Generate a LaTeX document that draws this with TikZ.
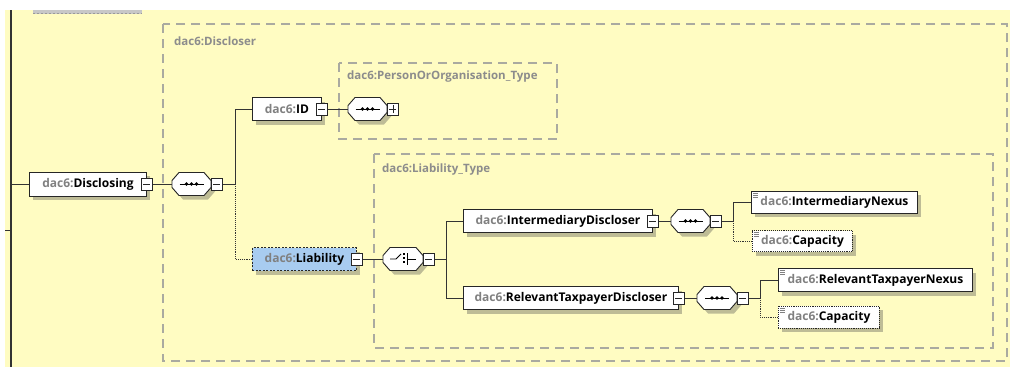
\documentclass[tikz,border=0pt]{standalone}
\usepackage{fontspec}
\setmainfont{Open Sans}
\definecolor{bgy}{RGB}{255,252,194}
\definecolor{dgray}{RGB}{128,128,128}
\definecolor{lblgray}{RGB}{140,140,140}
\definecolor{dashg}{RGB}{170,170,160}
\definecolor{liabblue}{RGB}{168,204,240}
\definecolor{shd}{RGB}{190,188,150}
\tikzset{
  elem/.style={draw=black!85, fill=white, rectangle, minimum height=23pt, inner sep=0pt,
    anchor=west, line width=0.9pt, font=\fontsize{12}{14}\selectfont\bfseries},
  shadownode/.style={draw=none, fill=shd, rectangle, minimum height=23pt, inner sep=0pt, outer sep=0pt, anchor=west},
  optelem/.style={elem, densely dotted},
  liabelem/.style={elem, fill=liabblue, dash pattern=on 2pt off 1.5pt},
  simplemark/.style={path picture={
      \foreach \k in {2,4,6}
        \draw[line width=0.6pt, dgray, solid] ([xshift=2pt,yshift=-\k pt]path picture bounding box.north west) -- ++(5pt,0);}},
  minusbox/.style={draw=black!85, fill=white, rectangle, minimum width=11pt, minimum height=12pt,
    inner sep=0pt, line width=0.8pt, solid,
    path picture={\draw[line width=0.8pt] ([xshift=2pt]path picture bounding box.west) -- ([xshift=-2pt]path picture bounding box.east);}},
  plusbox/.style={minusbox,
    path picture={\draw[line width=0.8pt] ([xshift=2pt]path picture bounding box.west) -- ([xshift=-2pt]path picture bounding box.east);
                  \draw[line width=0.8pt] ([yshift=2pt]path picture bounding box.south) -- ([yshift=-2pt]path picture bounding box.north);}},
  octo/.style={rectangle, draw=none, fill=none, minimum height=23pt, inner sep=0pt, outer sep=0pt, anchor=west},
  symline/.style={line width=0.9pt, black},
  dashbox/.style={draw=dashg, line width=1.3pt, dash pattern=on 9pt off 6pt},
  boxlabel/.style={anchor=west, inner sep=0pt, text=lblgray, font=\fontsize{11.5}{13}\selectfont\bfseries},
  conn/.style={draw=black!80, line width=0.9pt},
}
\newcommand\pfx{\textcolor{dgray}{dac6:}}
% octagon path round a node
\newcommand\octpath[1]{([xshift=7pt]#1.north west) -- ([xshift=-7pt]#1.north east) -- ([yshift=-8pt]#1.north east) -- ([yshift=8pt]#1.south east) -- ([xshift=-7pt]#1.south east) -- ([xshift=7pt]#1.south west) -- ([yshift=8pt]#1.south west) -- ([yshift=-8pt]#1.north west) -- cycle}
% octagon compositor: #1 node, #2 west x, #3 centre y, #4 width
\newcommand\octnode[4]{%
  \node[octo, minimum width=#4pt] (#1sh) at (#2+4,#3+4) {};
  \fill[shd] \octpath{#1sh};
  \node[octo, minimum width=#4pt] (#1) at (#2,#3) {};
  \filldraw[fill=white, draw=black!85, line width=0.9pt] \octpath{#1};}
\newcommand\seqsym[1]{%
  \draw[symline] ([xshift=-12pt]#1.center) -- ([xshift=12pt]#1.center);
  \foreach \d in {-5,0,5} \fill ([xshift=\d pt]#1.center) circle (1.8pt);}
\newcommand\choicesym[1]{%
  \draw[symline] ([xshift=-13pt]#1.center) -- ([xshift=-7pt]#1.center) -- ([xshift=-2pt,yshift=5pt]#1.center);
  \foreach \d in {-4,0,4} \fill ([yshift=\d pt]#1.center) rectangle ([xshift=2.4pt,yshift=\d pt+2.4pt]#1.center);
  \draw[symline] ([xshift=4pt,yshift=6pt]#1.center) -- ([xshift=4pt,yshift=-6pt]#1.center);
  \draw[symline] ([xshift=4pt]#1.center) -- ([xshift=13pt]#1.center);}

\begin{document}
\begin{tikzpicture}[x=1pt,y=-1pt]
\useasboundingbox (0,0) rectangle (1010,367);
\fill[white] (0,0) rectangle (1010,367);
\fill[bgy] (5,10) rectangle (1010,367);
% top partial gray item
\fill[black!22] (33,10) rectangle (142,14);
\draw[black!40, line width=1pt, dash pattern=on 2pt off 2pt] (33,13) -- (142,13);
% left vertical line
\draw[black!80, line width=1.3pt] (11,10) -- (11,367);
% dashed type boxes
\draw[dashbox] (163,24) rectangle (1007,361);
\draw[dashbox] (339,63) rectangle (557,139);
\draw[dashbox] (374,154) rectangle (993,348);
\coordinate (l0) at (11,184);
\coordinate (l1) at (11,230);
\coordinate (l2) at (5,230);
\draw[conn] (l2) -- (l1);

\node[boxlabel] (lblD) at (174,41) {dac6:Discloser};
\node[boxlabel] (lblP) at (347,77) {dac6:PersonOrOrganisation\_Type};
\node[boxlabel] (lblL) at (382,170) {dac6:Liability\_Type};

% junctions
\coordinate (j1) at (235,184);
\coordinate (j2) at (446,259);
\coordinate (j3) at (733,221);
\coordinate (j4) at (760,298);

% element shadows
\node[shadownode, minimum width=117pt, minimum height=24pt] (discS) at (33,188) {};
\node[shadownode, minimum width=69pt] (idS) at (256,113) {};
\node[shadownode, minimum width=104pt] (liabS) at (256,263) {};
\node[shadownode, minimum width=189pt] (intdS) at (467,225) {};
\node[shadownode, minimum width=215pt] (rtdS) at (467,302) {};
\node[shadownode, minimum width=166pt, minimum height=22pt] (inexS) at (755,206) {};
\node[shadownode, minimum width=100pt, minimum height=21pt] (cap1S) at (756,245) {};
\node[shadownode, minimum width=194pt] (rtnS) at (782,284) {};
\node[shadownode, minimum width=101pt, minimum height=22pt] (cap2S) at (782,321) {};

% connectors (behind the shapes)
\draw[conn] (l0) -- (29,184);
\draw[conn] (146,184) -- (172,184);
\draw[conn] (j1) |- (252,109);
\draw[conn, densely dotted] (j1) |- (252,259);

% elements
\node[elem, minimum width=117pt, minimum height=24pt] (disc) at (29,184) {\pfx Disclosing};
\node[minusbox] (discm) at (disc.east) {};
\octnode{s1}{172}{184}{39}
\node[minusbox, anchor=west] (s1m) at (s1.east) {};

\node[elem, minimum width=69pt] (id) at (252,109) {\pfx ID};
\node[minusbox] (idm) at (id.east) {};
\octnode{s2}{348}{109}{39}
\node[plusbox, anchor=west] (s2p) at (s2.east) {};

\node[liabelem, minimum width=104pt] (liab) at (252,259) {\pfx Liability};
\node[minusbox] (liabm) at (liab.east) {};
\octnode{c1}{383}{259}{40}
\node[minusbox, anchor=west] (c1m) at (c1.east) {};

\node[elem, minimum width=189pt] (intd) at (463,221) {\pfx IntermediaryDiscloser};
\node[minusbox] (intdm) at (intd.east) {};
\octnode{s3}{671}{221}{39}
\node[minusbox, anchor=west] (s3m) at (s3.east) {};

\node[elem, minimum width=215pt] (rtd) at (463,298) {\pfx RelevantTaxpayerDiscloser};
\node[minusbox] (rtdm) at (rtd.east) {};
\octnode{s4}{697}{298}{40}
\node[minusbox, anchor=west] (s4m) at (s4.east) {};

\node[elem, simplemark, minimum width=166pt, minimum height=22pt] (inex) at (751,202) {\pfx IntermediaryNexus};
\node[optelem, simplemark, minimum width=100pt, minimum height=21pt] (cap1) at (752,241) {\pfx Capacity};
\node[elem, simplemark, minimum width=194pt, minimum height=23pt] (rtn) at (778,280) {\pfx RelevantTaxpayerNexus};
\node[optelem, simplemark, minimum width=101pt, minimum height=22pt] (cap2) at (778,317) {\pfx Capacity};

\seqsym{s1}\seqsym{s2}\seqsym{s3}\seqsym{s4}
\choicesym{c1}

% connectors
\draw[conn] (discm.east) -- (s1.west);
\draw[conn] (s1m.east) -- (j1);
\draw[conn] (idm.east) -- (s2.west);
\draw[conn] (liabm.east) -- (c1.west);
\draw[conn] (c1m.east) -- (j2);
\draw[conn] (j2) |- (intd.west);
\draw[conn] (j2) |- (rtd.west);
\draw[conn] (intdm.east) -- (s3.west);
\draw[conn] (s3m.east) -- (j3) |- (inex.west);
\draw[conn, densely dotted] (j3) |- (cap1.west);
\draw[conn] (rtdm.east) -- (s4.west);
\draw[conn] (s4m.east) -- (j4) |- (rtn.west);
\draw[conn, densely dotted] (j4) |- (cap2.west);
\end{tikzpicture}
\end{document}
